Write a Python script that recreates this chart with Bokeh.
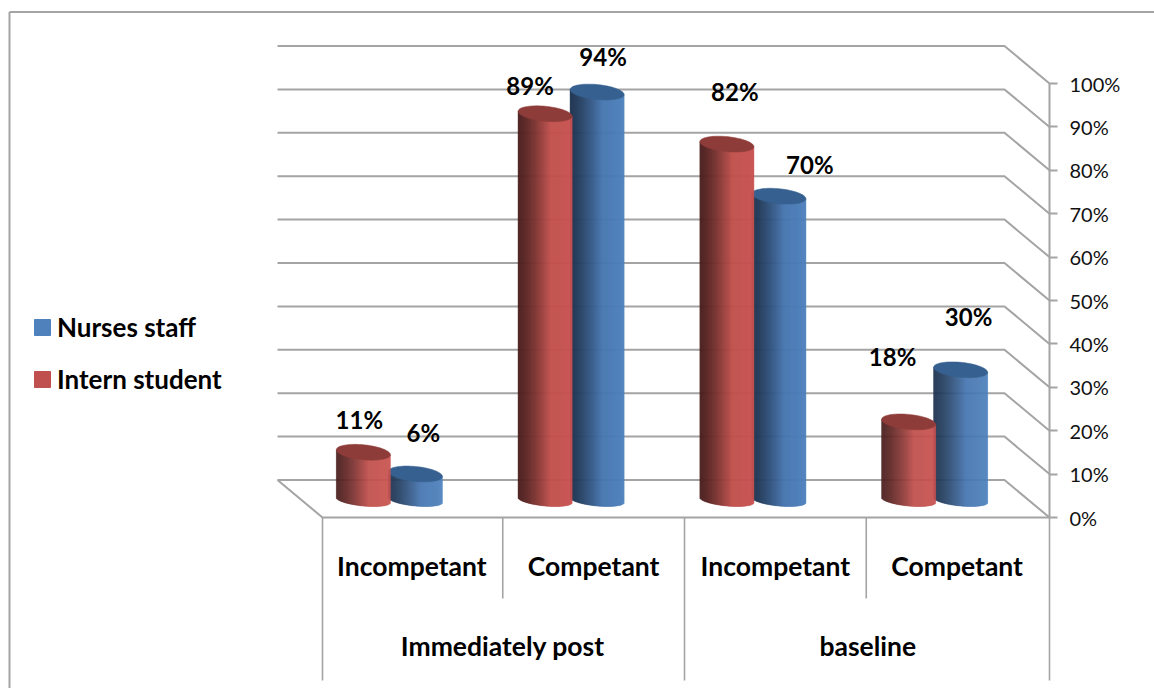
import numpy as np
from bokeh.plotting import figure
from bokeh.embed import file_html
from bokeh.resources import INLINE
from bokeh.core.properties import value
from bokeh.models import (Range1d, LinearAxis, FixedTicker, PrintfTickFormatter, Legend,
                          LegendItem, ColumnDataSource)

groups = ["Immediately post", "baseline"]
categories = ["Incompetant", "Competant", "Incompetant", "Competant"]
intern_student = [11, 89, 82, 18]
nurses_staff = [6, 94, 70, 30]
ticks = [0, 10, 20, 30, 40, 50, 60, 70, 80, 90, 100]

# label nudges in pixels, relative to the top of each cylinder
intern_nudge = [(-4, -33), (-15, -28), (8, -53), (-16, -65)]
nurses_nudge = [(8, -41), (6, -36), (31, -32), (8, -53)]

FONT = "Lato"
GRID = "#a4a4a4"
W, H = 1154, 688
PX_X = 181.75   # pixels per category
PX_Y = 4.34     # pixels per percent
X0 = -322 / PX_X
X_END = (1154 - 322) / PX_X
Y_TOP = 517 / PX_Y
Y_BOT = (517 - 688) / PX_Y
Y_SEP = (517 - 680) / PX_Y
Y_FRAME = (517 - 11.5) / PX_Y
DX = 45 / PX_X
DY = 37.5 / PX_Y
NUDGE = 1.5 / PX_X

p = figure(width=W, height=H, output_backend="svg", toolbar_location=None,
           x_range=Range1d(X0, X_END), y_range=Range1d(Y_BOT, Y_TOP),
           min_border_left=0, min_border_top=0, min_border_bottom=0,
           min_border_right=0, x_axis_location=None, y_axis_location=None)
p.grid.visible = False
p.outline_line_color = None
p.background_fill_color = "white"
p.border_fill_color = "white"

# outer chart frame
p.multi_line(xs=[[X0 + 9 / PX_X, X_END], [X0 + 9 / PX_X, X0 + 9 / PX_X]],
             ys=[[Y_FRAME, Y_FRAME], [Y_FRAME, Y_BOT]],
             line_color=GRID, line_width=2)

# back wall and right wall grid lines
p.multi_line(xs=[[-DX, 4 - DX, 4] for _ in ticks],
             ys=[[t + DY, t + DY, t] for t in ticks],
             line_color=GRID, line_width=2)
# floor
p.multi_line(xs=[[-DX, 0, 4]], ys=[[DY, 0, 0]], line_color=GRID, line_width=2)

# category separators
long_seps = [0, 2 - NUDGE, 4]
short_seps = [1 - NUDGE, 3 - NUDGE]
p.segment(x0=long_seps, y0=[0] * 3, x1=long_seps, y1=[Y_SEP] * 3, line_color=GRID, line_width=1.6)
p.segment(x0=short_seps, y0=[0] * 2, x1=short_seps, y1=[(517 - 598) / PX_Y] * 2, line_color=GRID, line_width=1.6)


def lerp(a, b, f):
    return tuple(int(round(a[i] + (b[i] - a[i]) * f)) for i in range(3))


def hexc(c):
    return "#%02x%02x%02x" % c


def cylinder(cx, v, dark, mid, light, cap):
    hw = 27 / PX_X
    n = 54
    edges = np.linspace(-1, 1, n + 1)
    tc = (edges[:-1] + edges[1:]) / 2
    b, b_low, tilt = 7.5, 6.0, 2.5
    base = 17.5 / PX_Y
    front = (b_low * np.sqrt(1 - tc ** 2) + tilt * tc) / PX_Y
    f = (tc + 1) / 2
    cols = [hexc(lerp(dark, mid, (x / 0.6) ** 1.3)) if x < 0.6 else hexc(lerp(mid, light, (x - 0.6) / 0.4)) for x in f]
    top_c = base + v
    p.quad(left=cx + edges[:-1] * hw, right=cx + edges[1:] * hw,
           bottom=base - front, top=top_c - tilt * tc / PX_Y,
           fill_color=cols, line_color=cols, line_width=0.5)
    th = np.linspace(0, 2 * np.pi, 73)
    p.patch(cx + np.cos(th) * hw, top_c + (b * np.sin(th) - tilt * np.cos(th)) / PX_Y,
            fill_color=cap, line_color=cap, line_width=0.5)


centers = [i + 0.5 - 24 / PX_X for i in range(4)]
off = 26 / PX_X
RED = ((0x4a, 0x1f, 0x1e), (0xc0, 0x50, 0x4d), (0xc8, 0x53, 0x50), "#8e3c39")
BLUE = ((0x1e, 0x33, 0x4e), (0x47, 0x76, 0xb0), (0x4f, 0x81, 0xbd), "#36608f")

for c, v in zip(centers, nurses_staff):
    cylinder(c + off, v, *BLUE)
for c, v in zip(centers, intern_student):
    cylinder(c - off, v, *RED)

# data labels
lx, ly, lt, ox, oy = [], [], [], [], []
base_pct = 17.5 / PX_Y
for vals, nudge, sign in ((intern_student, intern_nudge, -1), (nurses_staff, nurses_nudge, 1)):
    for c, v, (nx, ny) in zip(centers, vals, nudge):
        lx.append(c + sign * off)
        ly.append(v + base_pct)
        lt.append(f"{v}%")
        ox.append(nx)
        oy.append(ny)
p.text(x="x", y="y", text="t", x_offset="ox", y_offset="oy",
       source=ColumnDataSource(dict(x=lx, y=ly, t=lt, ox=ox, oy=oy)),
       text_font=value(FONT), text_font_style="bold", text_font_size="24px",
       text_align="center", text_baseline="middle", text_color="black")

# category labels
p.text(x=[i + 0.5 - NUDGE for i in range(4)], y=[(517 - 565) / PX_Y] * 4, text=categories,
       text_font=value(FONT), text_font_style="bold", text_font_size="26.5px",
       text_align="center", text_baseline="middle", text_color="black")
p.text(x=[1 - NUDGE, 3], y=[(517 - 645) / PX_Y] * 2, text=groups,
       text_font=value(FONT), text_font_style="bold", text_font_size="26.5px",
       text_align="center", text_baseline="middle", text_color="black")

# value axis, fixed on the right edge of the floor
ax = LinearAxis(ticker=FixedTicker(ticks=ticks), formatter=PrintfTickFormatter(format="%d%%"),
                bounds=(0, 100), fixed_location=4)
ax.axis_line_color = GRID
ax.axis_line_width = 2
ax.major_tick_line_color = GRID
ax.major_tick_line_width = 2
ax.major_tick_in = 0
ax.major_tick_out = 8
ax.minor_tick_line_color = None
ax.major_label_standoff = 12
ax.major_label_text_font = FONT
ax.major_label_text_font_size = "20px"
ax.major_label_text_color = "#111111"
p.add_layout(ax, "right")

# legend
r_n = p.quad(left=[np.nan], right=[np.nan], top=[np.nan], bottom=[np.nan], fill_color="#4f81bd", line_color="#4f81bd")
r_i = p.quad(left=[np.nan], right=[np.nan], top=[np.nan], bottom=[np.nan], fill_color="#c0504d", line_color="#c0504d")
legend = Legend(items=[LegendItem(label="Nurses staff", renderers=[r_n]),
                       LegendItem(label="Intern student", renderers=[r_i])],
                location=(32, 293), orientation="vertical", padding=0, margin=0,
                spacing=20, glyph_width=20, glyph_height=20, label_standoff=5,
                border_line_color=None, background_fill_color=None,
                label_text_font=FONT, label_text_font_style="bold", label_text_font_size="26px",
                label_text_color="black", label_height=20, label_text_baseline="middle")
p.add_layout(legend, "center")

open("out.html", "w").write(file_html(p, INLINE))
